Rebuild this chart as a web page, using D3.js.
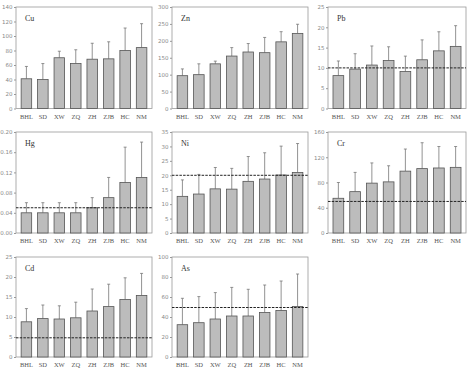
<!DOCTYPE html>
<html><head><meta charset="utf-8">
<script src="https://cdn.jsdelivr.net/npm/d3@7"></script>
<style>body{margin:0;background:#fff}svg{display:block}</style>
</head><body>
<svg id="c" width="474" height="371"></svg>
<script>
const categories = ["BHL","SD","XW","ZQ","ZH","ZJB","HC","NM"];

const cuMean = [41,40,70,62,68,68.5,80,84];
const cuUpper = [58,62,79,81,90,92,111,117];
const znMean = [97,100,132,155,167,165,197,222];
const znUpper = [117,132,140,180,192,210,227,249];
const pbMean = [8.1,9.7,10.7,11.8,9.1,12.0,14.2,15.3];
const pbUpper = [11.7,13.5,15.4,15.2,12.9,16.9,18.9,20.4];
const hgMean = [0.04,0.04,0.04,0.04,0.05,0.07,0.10,0.11];
const hgUpper = [0.06,0.06,0.06,0.06,0.07,0.11,0.17,0.18];
const niMean = [12.7,13.5,15.3,15.2,17.9,18.7,20.1,21.0];
const niUpper = [18.4,20.3,22.7,22.4,26.5,27.8,30.1,31.0];
const crMean = [55,65.5,79,81,98,102,103,104];
const crUpper = [80,96,111,106.5,133,143,137,137];
const cdMean = [8.8,9.6,9.5,9.8,11.5,12.6,14.4,15.4];
const cdUpper = [12.1,13.0,12.8,13.7,17.0,18.2,19.8,20.9];
const asMean = [32.3,34.3,38,41,41,44.6,46.5,50.5];
const asUpper = [58.7,60.4,64.4,69.6,67.7,72,76,83];

const panelNames = ["Cu","Zn","Pb","Hg","Ni","Cr","Cd","As"];
const yMax = [140,300,25,0.20,35,160,25,100];
const yTicks = [
  [0,20,40,60,80,100,120,140],
  [0,50,100,150,200,250,300],
  [0,5,10,15,20,25],
  [0,0.04,0.08,0.12,0.16,0.20],
  [0,5,10,15,20,25,30,35],
  [0,40,80,120,160],
  [0,5,10,15,20,25],
  [0,20,40,60,80,100]
];
const refLine = [null,null,10,0.05,20,50,4.8,49.5];
const means = [cuMean,znMean,pbMean,hgMean,niMean,crMean,cdMean,asMean];
const uppers = [cuUpper,znUpper,pbUpper,hgUpper,niUpper,crUpper,cdUpper,asUpper];

const cols = [[16,152],[172,308],[328,466]];
const rows = [[7,108.5],[132,233],[257,357]];

const svg = d3.select("#c");

panelNames.forEach((name,i)=>{
  const [x0,x1] = cols[i%3];
  const [y0,y1] = rows[Math.floor(i/3)];
  const g = svg.append("g");
  const step = (x1-x0-26)/7;
  const x = d3.scaleBand().domain(categories)
    .range([x0+13-step/2, x1-13+step/2]).paddingInner(0.36).paddingOuter(0.18*0);
  const y = d3.scaleLinear().domain([0,yMax[i]]).range([y1,y0]);
  const fmt = i===3 ? d3.format(".2f") : d3.format("d");

  // frame
  g.append("rect").attr("x",x0).attr("y",y0).attr("width",x1-x0).attr("height",y1-y0)
    .attr("fill","none").attr("stroke","#999").attr("stroke-width",0.8);

  // y axis
  const ax = g.append("g").attr("transform",`translate(${x0},0)`)
    .call(d3.axisLeft(y).tickValues(yTicks[i]).tickFormat(fmt).tickSize(2).tickPadding(1.5));
  ax.select(".domain").remove();
  ax.selectAll("line").attr("stroke","#999");
  ax.selectAll("text").attr("fill","#888").style("font-family","DejaVu Sans, sans-serif").style("font-size","5.5px");

  const data = categories.map((c,j)=>({c,m:means[i][j],u:uppers[i][j]}));
  // error bars
  g.selectAll(".eb").data(data).enter().append("line")
    .attr("x1",d=>x(d.c)+x.bandwidth()/2).attr("x2",d=>x(d.c)+x.bandwidth()/2)
    .attr("y1",d=>y(d.m)).attr("y2",d=>y(d.u)).attr("stroke","#777").attr("stroke-width",0.8);
  g.selectAll(".cap").data(data).enter().append("line")
    .attr("x1",d=>x(d.c)+x.bandwidth()/2-1.5).attr("x2",d=>x(d.c)+x.bandwidth()/2+1.5)
    .attr("y1",d=>y(d.u)).attr("y2",d=>y(d.u)).attr("stroke","#777").attr("stroke-width",0.8);
  // bars
  g.selectAll(".bar").data(data).enter().append("rect")
    .attr("x",d=>x(d.c)).attr("width",x.bandwidth())
    .attr("y",d=>y(d.m)).attr("height",d=>y1-y(d.m))
    .attr("fill","#bcbcbc").attr("stroke","#555").attr("stroke-width",0.8);

  // reference line
  if(refLine[i]!==null){
    g.append("line").attr("x1",x0).attr("x2",x1).attr("y1",y(refLine[i])).attr("y2",y(refLine[i]))
      .attr("stroke","#222").attr("stroke-width",1).attr("stroke-dasharray","2.5,1.2");
  }

  // x labels
  g.selectAll(".xl").data(categories).enter().append("text")
    .attr("x",d=>x(d)+x.bandwidth()/2).attr("y",y1+10)
    .attr("text-anchor","middle").attr("fill","#555")
    .style("font-family","Liberation Serif, serif").style("font-size","6.5px").text(d=>d);

  // title
  g.append("text").attr("x",x0+9).attr("y",y0+14).attr("fill","#333")
    .style("font-family","Liberation Serif, serif").style("font-size","8px").text(name);
});
</script>
</body></html>
